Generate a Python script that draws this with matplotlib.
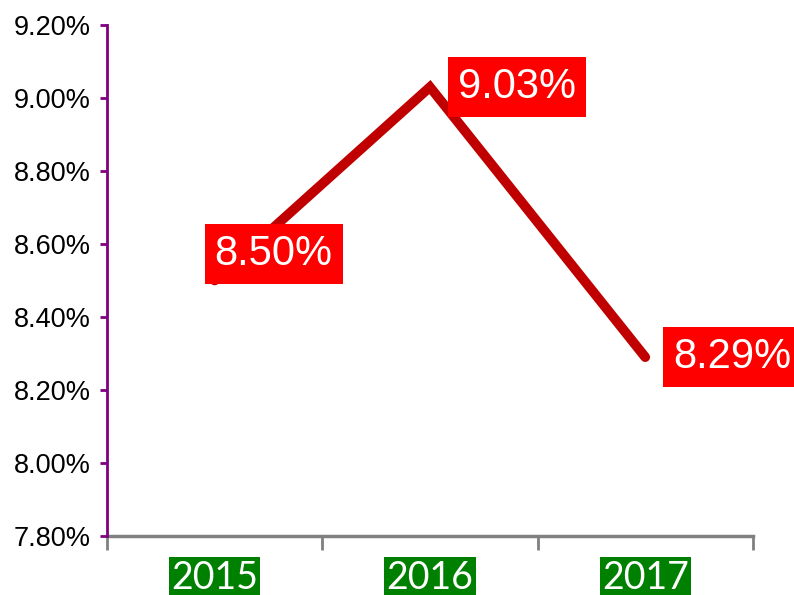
import matplotlib.pyplot as plt
from matplotlib.ticker import FuncFormatter

# --- Data ---
years = ['2015', '2016', '2017']
rates = [8.50, 9.03, 8.29]
label_text = ['8.50%', '9.03%', '8.29%']

fig = plt.figure(figsize=(7.94, 5.95), dpi=100)
ax = fig.add_axes([0.1348, 0.0992, 0.8134, 0.8588])

x = list(range(len(years)))
ax.plot(x, rates, color='#C00000', linewidth=7, solid_capstyle='round',
        solid_joinstyle='miter', zorder=2)

# --- Data labels (red boxes) ---
offsets = [(0, 26), (28, 0), (28, 0)]
for xi, yi, txt, off in zip(x, rates, label_text, offsets):
    ax.annotate(txt, (xi, yi), xytext=off, textcoords='offset pixels',
                ha='left', va='center', color='white', fontsize=30,
                family='Liberation Sans', annotation_clip=False, zorder=3,
                bbox=dict(boxstyle='square,pad=0.24', fc='#FF0000', ec='none'))

# --- Axes formatting ---
ax.set_xlim(-0.5, 2.5)
ax.set_ylim(7.8, 9.2)
ax.set_yticks([7.8, 8.0, 8.2, 8.4, 8.6, 8.8, 9.0, 9.2])
ax.yaxis.set_major_formatter(FuncFormatter(lambda v, p: f"{v:.2f}%"))
for lbl in ax.get_yticklabels():
    lbl.set_family('Liberation Sans')
    lbl.set_fontsize(19.5)
ax.tick_params(axis='y', direction='out', length=5, width=2, color='#800080', pad=6.5)

ax.set_xticks(x)
ax.set_xticklabels(years)
ax.set_xticks([-0.5, 0.5, 1.5, 2.5], minor=True)
ax.tick_params(axis='x', which='major', length=0, pad=17)
ax.tick_params(axis='x', which='minor', length=10, width=2, color='#808080', direction='out')
for lbl in ax.get_xticklabels():
    lbl.set_family('Lato')
    lbl.set_fontsize(27)
    lbl.set_color('white')
    lbl.set_bbox(dict(boxstyle='square,pad=0.06', fc='#008000', ec='none'))

ax.spines['top'].set_visible(False)
ax.spines['right'].set_visible(False)
ax.spines['left'].set_color('#800080')
ax.spines['left'].set_linewidth(2)
ax.spines['bottom'].set_color('#808080')
ax.spines['bottom'].set_linewidth(2.5)
ax.spines['bottom'].set_zorder(1)

fig.savefig('out.png', dpi=100)
plt.close(fig)
